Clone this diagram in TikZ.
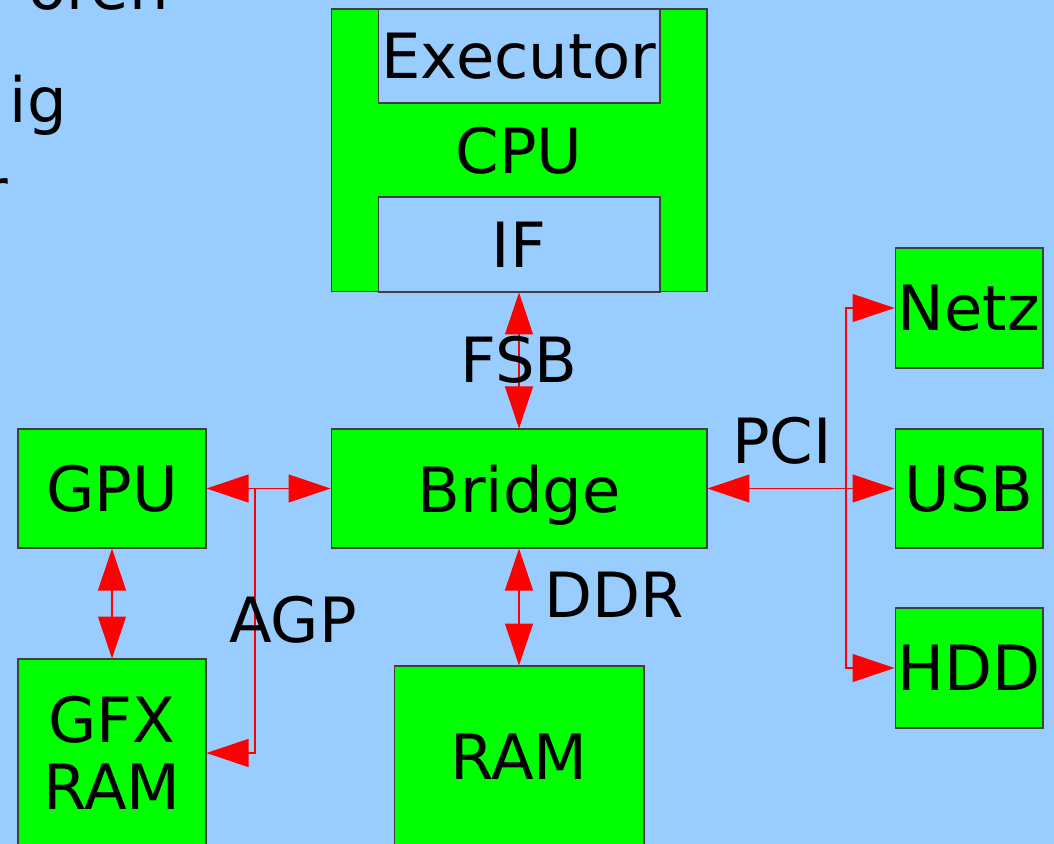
\documentclass[tikz,border=0pt]{standalone}
\usepackage{fontspec}
\setmainfont{DejaVu Sans}
\usetikzlibrary{arrows.meta}
\definecolor{slideblue}{HTML}{99CCFF}
\definecolor{boxgreen}{HTML}{00FF00}

\begin{document}
\begin{tikzpicture}[x=0.02cm,y=-0.02cm,font=\fontsize{35.5}{38}\selectfont,
  box/.style={draw=black!75,line width=0.6pt,fill=boxgreen,inner sep=0pt,text depth=0pt,align=center},
  bus/.style={red,line width=0.6pt,{Triangle[length=0.84cm,width=0.56cm]}-{Triangle[length=0.84cm,width=0.56cm]}},
  busend/.style={red,line width=0.6pt,-{Triangle[length=0.84cm,width=0.56cm]}}]
  \useasboundingbox (0,0) rectangle (1054,844);
  \clip (0,0) rectangle (1054,844);
  \fill[slideblue] (0,0) rectangle (1054,844);
  \node[anchor=base east] (fragoren) at (175,10) {oren};
  \node[anchor=base east] (fragig) at (73,123) {ig};
  \node[anchor=base east] (fragr) at (14,214) {r};
  \node[box,minimum width=7.52cm,minimum height=5.66cm] (cpu) at (519,150.5) {CPU};
  \node[box,fill=slideblue,minimum width=5.64cm,minimum height=1.88cm] (exec) at (519,56) {Executor};
  \node[box,fill=slideblue,minimum width=5.64cm,minimum height=1.9cm] (if) at (519,244.5) {IF};
  \node (ddrhidden) at (467,527) {DDR};
  \node[box,minimum width=7.52cm,minimum height=2.38cm] (bridge) at (519,488.5) {Bridge};
  \node[box,minimum width=3.76cm,minimum height=2.38cm] (gpu) at (112,488.5) {GPU};
  \node[box,minimum width=3.76cm,minimum height=3.76cm] (gfxram) at (112,753) {GFX\\RAM};
  \node[box,minimum width=5cm,minimum height=3.64cm] (ram) at (519,757) {RAM};
  \node[box,minimum width=2.96cm,minimum height=2.4cm] (netz) at (969,308) {Netz};
  \node[box,minimum width=2.96cm,minimum height=2.38cm] (usb) at (969,488.5) {USB};
  \node[box,minimum width=2.96cm,minimum height=2.4cm] (hdd) at (969,668) {HDD};
  \draw[bus] (cpu.south) -- (bridge.north);
  \draw[bus] (bridge.south) -- (ram.north);
  \draw[bus] (gpu.south) -- (gfxram.north);
  \draw[bus] (gpu.east) -- (bridge.west);
  \draw[bus] (bridge.east) -- (usb.west);
  \coordinate (agpsplit) at (255,488.5);
  \draw[busend] (agpsplit) |- (gfxram.east);
  \coordinate (pcisplit) at (846,488.5);
  \draw[busend] (pcisplit) |- (netz.west);
  \draw[busend] (pcisplit) |- (hdd.west);
  \node (fsb) at (519,360) {FSB};
  \node (ddr) at (614,595) {DDR};
  \node (agp) at (293,620) {AGP};
  \node (pci) at (782,441) {PCI};
\end{tikzpicture}
\end{document}
